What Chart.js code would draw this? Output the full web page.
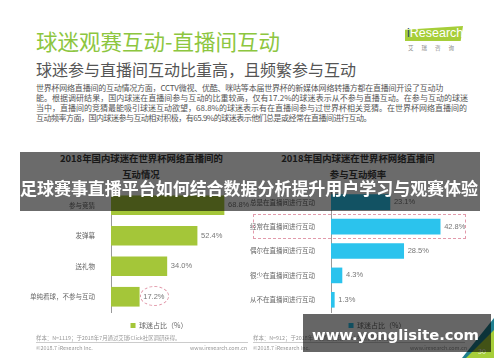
<!DOCTYPE html>
<html>
<head>
<meta charset="utf-8">
<script src="https://cdn.jsdelivr.net/npm/chart.js@4"></script>
<style>
  body { margin: 0; background: #fff; font-family: 'Noto Sans CJK SC', sans-serif; }
  #page { position: relative; width: 500px; height: 362px; overflow: hidden; background: #fff; }
  .abs { position: absolute; white-space: nowrap; }
  [data-w] { width: max-content; }
  canvas { position: absolute; }
  .para { left: 36px; font-size: 8px; color: #555; line-height: 10px; }
  .ctitle { font-size: 9.4px; font-weight: bold; color: #3a3a3a; text-align: center; line-height: 16px; }
  .foot { font-size: 5.4px; color: #999; }
</style>
</head>
<body>
<div id="page">
  <div class="abs" style="left:36px;top:25px;font-size:21.5px;color:#8dc63f;">球迷观赛互动-直播间互动</div>
  <div class="abs" style="left:36px;top:57px;font-size:16px;color:#555;">球迷参与直播间互动比重高，且频繁参与互动</div>
  <div class="abs para" data-w="407" style="top:83px;">世界杯网络直播间的互动情况方面，CCTV微视、优酷、咪咕等本届世界杯的新媒体网络转播方都在直播间开设了互动功</div>
  <div class="abs para" data-w="432" style="top:93px;">能。根据调研结果，国内球迷在直播间参与互动的比重较高，仅有17.2%的球迷表示从不参与直播互动。在参与互动的球迷</div>
  <div class="abs para" data-w="431" style="top:103px;">当中，直播间的竞猜最能吸引球迷互动欲望，68.8%的球迷表示有在直播间参与过世界杯相关竞猜。在世界杯网络直播间的</div>
  <div class="abs para" data-w="335" style="top:113px;">互动频率方面，国内球迷参与互动相对积极，有65.9%的球迷表示他们总是或经常在直播间进行互动。</div>

  <!-- logo -->
  <div class="abs" style="left:405px;top:26px;width:58px;height:15px;background:#a6ce39;clip-path:polygon(0 25%,100% 0,96% 100%,0 100%);"></div>
  <div class="abs" style="left:407px;top:26px;font-family:'Liberation Sans',sans-serif;font-size:12.5px;color:#fff;"><span style="color:#2b4a6b">i</span>Research</div>
  <div class="abs" style="left:408px;top:44px;font-size:5.5px;color:#888;letter-spacing:8px;">艾瑞咨询</div>

  <!-- chart titles -->
  <div class="abs ctitle" style="left:60px;top:150px;width:162px;">2018年国内球迷在世界杯网络直播间的<br>互动情况</div>
  <div class="abs ctitle" style="left:280px;top:150px;width:156px;">2018年国内球迷在世界杯网络直播间<br>参与互动频率</div>

  <canvas id="left" width="270" height="189" style="left:24px;top:150px;"></canvas>
  <canvas id="right" width="260" height="189" style="left:247px;top:150px;"></canvas>

  <!-- highlight marks -->
  <div class="abs" style="left:140px;top:286px;width:27px;height:18px;border:1px dashed #e29aab;border-radius:50%;"></div>
  <div class="abs" style="left:253px;top:214px;width:211px;height:23px;border:1px dashed #e29aab;"></div>

  <!-- footnotes -->
  <div class="abs foot" style="left:36px;top:334px;">样本：N=1119；于2018年7月通过艾瑞iClick社区调研获得。</div>
  <div class="abs" style="left:36px;top:342px;width:212px;height:1px;background:#ccc;"></div>
  <div class="abs foot" style="left:36px;top:344px;">©2018.7 iResearch Inc.</div>
  <div class="abs foot" style="left:190px;top:344px;">www.iresearch.com.cn</div>
  <div class="abs foot" style="left:253px;top:334px;">样本：N=912；于2018年7月通过艾瑞iClick社区调研获得。</div>
  <div class="abs" style="left:253px;top:342px;width:212px;height:1px;background:#ccc;"></div>
  <div class="abs foot" style="left:253px;top:344px;">©2018.7 iResearch Inc.</div>
  <div class="abs foot" style="left:410px;top:344px;">www.iresearch.com.cn</div>

  <!-- corner decoration -->
  <div class="abs" style="left:462px;top:318px;width:32px;height:40px;background:#1f7f8f;clip-path:polygon(100% 0,100% 100%,0 100%);"></div>
  <div class="abs" style="left:466px;top:330px;width:28px;height:28px;background:#a6ce39;clip-path:polygon(100% 0,100% 100%,0 100%);"></div>
  <div class="abs" style="left:478px;top:346px;font-size:7px;color:#eee;">30</div>

  <!-- overlays -->
  <div class="abs" style="left:20px;top:152px;width:460px;height:59px;background:rgba(0,0,0,0.58);"></div>
  <div class="abs" data-w="458" style="left:20px;top:175px;font-size:17px;font-weight:bold;color:#fff;">足球赛事直播平台如何结合数据分析提升用户学习与观赛体验</div>
  <div class="abs" style="left:303px;top:314px;width:188px;height:38px;background:rgba(0,0,0,0.6);"></div>
  <div class="abs" data-w="167" style="left:312px;top:326px;font-family:'DejaVu Sans',sans-serif;font-size:14.8px;font-weight:bold;color:#fff;">www.yonglisite.com</div>
</div>

<script>
// 左图：互动情况
const leftLabels = ['参与竞猜', '发弹幕', '送礼物', '单纯看球，不参与互动'];
const leftValues = [68.8, 52.4, 34.0, 17.2];
// 右图：参与互动频率
const rightLabels = ['总是在直播间进行互动', '经常在直播间进行互动', '偶尔在直播间进行互动', '很少在直播间进行互动', '从不在直播间进行互动'];
const rightValues = [23.1, 42.8, 28.5, 4.3, 1.3];
const seriesName = '球迷占比（%）';

// stretch text lines to the widths they have in the slide
document.querySelectorAll('[data-w]').forEach(el => {
    const target = +el.dataset.w;
    const n = el.textContent.length;
    const w = el.getBoundingClientRect().width;
    el.style.letterSpacing = ((target - w) / n) + 'px';
});

Chart.defaults.font.family = "'Noto Sans CJK SC', sans-serif";

// draws the "68.8%" text next to each bar
const valueLabels = {
    id: 'valueLabels',
    afterDatasetsDraw(chart) {
        const ctx = chart.ctx;
        const meta = chart.getDatasetMeta(0);
        ctx.save();
        ctx.font = "7.5px 'Liberation Sans', sans-serif";
        ctx.fillStyle = '#777';
        ctx.textBaseline = 'middle';
        meta.data.forEach((bar, i) => {
            const v = chart.data.datasets[0].data[i];
            ctx.fillText(v.toFixed(1) + '%', bar.x + 4, bar.y);
        });
        ctx.restore();
    }
};

function makeChart(canvas, labels, values, color, max, axisWidth, thickness) {
    return new Chart(canvas, {
        type: 'bar',
        data: {
            labels: labels,
            datasets: [{
                label: seriesName,
                data: values,
                backgroundColor: color,
                barThickness: thickness
            }]
        },
        options: {
            indexAxis: 'y',
            responsive: false,
            animation: false,
            layout: { padding: { top: 40 } },
            scales: {
                x: { display: false, min: 0, max: max },
                y: {
                    afterFit(scale) { scale.width = axisWidth; },
                    grid: { display: false },
                    border: { display: true, color: '#999', width: 1 },
                    ticks: { color: '#666', font: { size: 6.5 }, padding: 8 }
                }
            },
            plugins: {
                legend: {
                    position: 'bottom',
                    labels: { boxWidth: 5, boxHeight: 5, padding: 10, color: '#666', font: { size: 7 } }
                },
                tooltip: { enabled: false }
            }
        },
        plugins: [valueLabels]
    });
}

makeChart(document.getElementById('left'), leftLabels, leftValues, '#a4c639', 111.4, 87, 19);
makeChart(document.getElementById('right'), rightLabels, rightValues, '#2bc3ed', 69, 84, 15);
</script>
</body>
</html>
